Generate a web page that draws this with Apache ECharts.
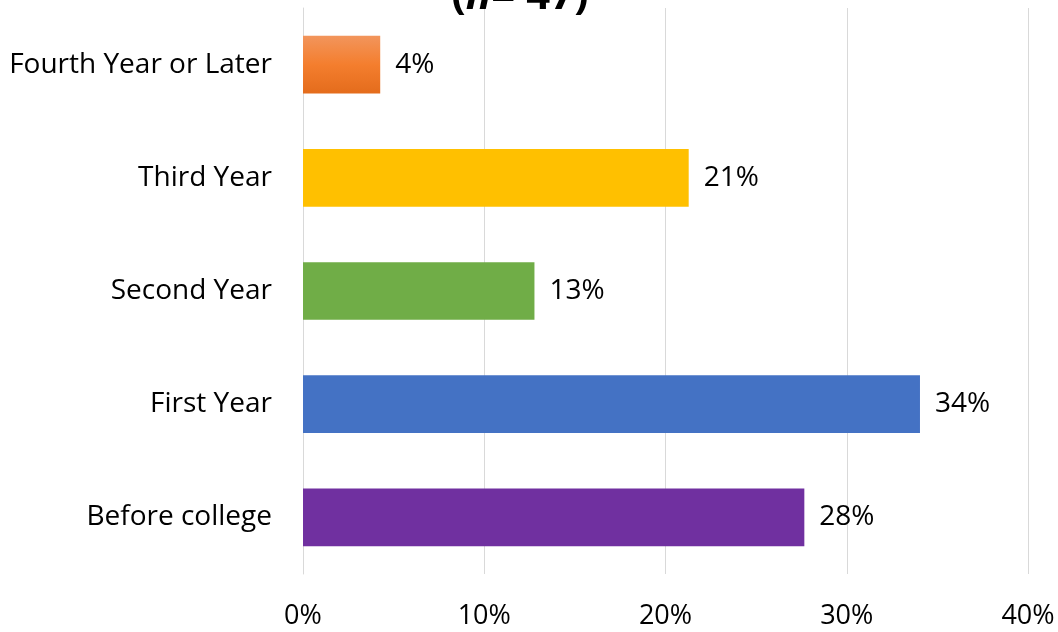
<!DOCTYPE html>
<html><head><meta charset="utf-8">
<script src="https://cdn.jsdelivr.net/npm/echarts@6/dist/echarts.min.js"></script>
<style>html,body{margin:0;padding:0;background:#fff}#c{width:1058px;height:632px}</style>
</head><body><div id="c"></div>
<script>
const categories = ['Before college', 'First Year', 'Second Year', 'Third Year', 'Fourth Year or Later'];
const values = [27.66, 34.04, 12.77, 21.28, 4.26];
const barColors = ['#7030A0', '#4472C4', '#70AD47', '#FFC000', 'gradient'];
const xTicks = [0, 10, 20, 30, 40];
const titleText = '(n= 47)';

const chart = echarts.init(document.getElementById('c'));
const font = 'Open Sans';
chart.setOption({
  animation: false,
  title: {
    text: '{i|(}{n|n}{i|= 47)}',
    left: 515, top: -29, textAlign: 'center',
    textStyle: {
      rich: {
        i: {fontFamily: font, fontWeight: 'bold', fontSize: 42, color: '#000'},
        n: {fontFamily: font, fontWeight: 'bold', fontStyle: 'italic', fontSize: 42, color: '#000'}
      }
    }
  },
  grid: {left: 303, right: 30, top: 8, bottom: 58, containLabel: false},
  xAxis: {
    type: 'value', min: 0, max: 40, interval: 10,
    axisLine: {show: false}, axisTick: {show: false},
    splitLine: {lineStyle: {color: '#D9D9D9', width: 1}},
    axisLabel: {formatter: v => xTicks.includes(v) ? v + '%' : '', fontFamily: font, fontSize: 27, color: '#000', margin: 29}
  },
  yAxis: {
    type: 'category', data: categories,
    axisLine: {show: true, lineStyle: {color: '#D9D9D9', width: 1}},
    axisTick: {show: false},
    axisLabel: {fontFamily: font, fontSize: 28, color: '#000', margin: 31}
  },
  series: [{
    type: 'bar', barCategoryGap: '49%',
    data: values.map((v, i) => ({
      value: v,
      itemStyle: {
        color: barColors[i] === 'gradient'
          ? new echarts.graphic.LinearGradient(0, 0, 0, 1, [{offset: 0, color: '#F2955C'}, {offset: 0.5, color: '#F47E2E'}, {offset: 1, color: '#E46C1C'}])
          : barColors[i]
      }
    })),
    label: {
      show: true, position: 'right', distance: 15,
      formatter: p => Math.round(p.value) + '%',
      fontFamily: font, fontSize: 28, color: '#000'
    }
  }]
});
</script></body></html>
